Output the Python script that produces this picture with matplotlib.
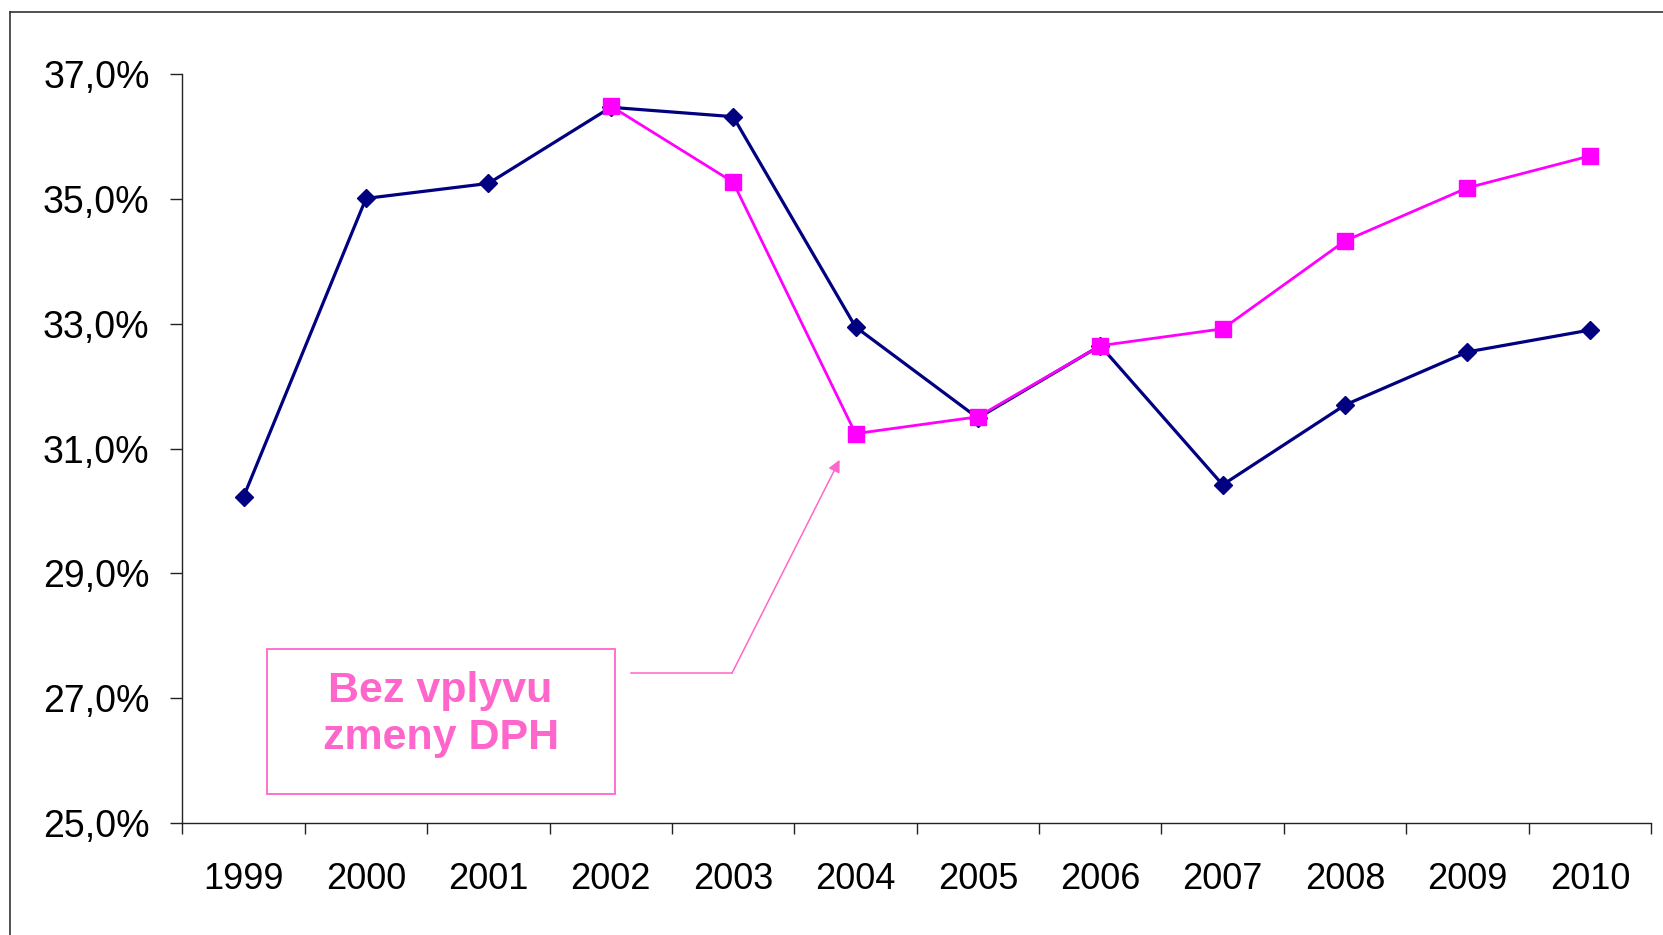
import numpy as np
import matplotlib
matplotlib.use("Agg")
import matplotlib.pyplot as plt
from matplotlib.lines import Line2D
from matplotlib.patches import Rectangle

plt.rcParams['font.family'] = ['Liberation Sans', 'DejaVu Sans']

# data
years = ['1999', '2000', '2001', '2002', '2003', '2004',
         '2005', '2006', '2007', '2008', '2009', '2010']
total = [30.23, 35.01, 35.25, 36.47, 36.32, 32.95,
         31.49, 32.65, 30.42, 31.70, 32.55, 32.90]
# without the VAT change, from 2002 on
no_vat_years = ['2002', '2003', '2004', '2005', '2006', '2007', '2008', '2009', '2010']
no_vat = [36.49, 35.27, 31.24, 31.51, 32.65, 32.92, 34.33, 35.18, 35.69]
y_ticks = [25, 27, 29, 31, 33, 35, 37]

NAVY = '#000080'
MAGENTA = '#FF00FF'
PINK = '#FF66CC'

fig = plt.figure(figsize=(16.63, 9.35), dpi=100)
ax = fig.add_axes([0.1097, 0.1198, 0.8831, 0.8008])

x = np.arange(len(years))
x2 = np.array([years.index(y) for y in no_vat_years])

ax.plot(x, total, color=NAVY, lw=2.3, marker='D', ms=9.5, zorder=3)
ax.plot(x2, no_vat, color=MAGENTA, lw=2.0, marker='s', ms=11.3, zorder=4)

ax.set_xlim(-0.5, len(years) - 0.5)
ax.set_ylim(25, 37)

for s in ['top', 'right']:
    ax.spines[s].set_visible(False)
for s in ['left', 'bottom']:
    ax.spines[s].set_color('#222222')
    ax.spines[s].set_linewidth(1.0)

ax.set_yticks(y_ticks)
ax.set_yticklabels([f"{v:.1f}%".replace('.', ',') for v in y_ticks])
ax.tick_params(axis='y', length=8.6, width=1.0, color='#222222',
               labelsize=27, pad=15)

# category boundaries get the tick marks, centres get the labels
ax.set_xticks(np.arange(-0.5, len(years), 1))
ax.set_xticklabels([])
ax.set_xticks(x, minor=True)
ax.set_xticklabels(years, minor=True)
ax.tick_params(axis='x', which='major', length=7.7, width=1.0, color='#222222')
ax.tick_params(axis='x', which='minor', length=0, labelsize=26, pad=28)

# annotation box and bent arrow
ax.add_patch(Rectangle((0.191, 25.46), 2.842, 2.33, fill=False,
                       edgecolor=PINK, lw=1.3, zorder=5))
ax.text(1.61, 26.74, "Bez vplyvu\nzmeny DPH", color=PINK, fontsize=31,
        fontweight='bold', ha='center', va='center', linespacing=1.2, zorder=6)
ax.plot([3.165, 3.99], [27.40, 27.40], color=PINK, lw=1.1, zorder=5)
ax.annotate('', xy=(4.87, 30.82), xytext=(3.99, 27.40),
            arrowprops=dict(arrowstyle='-|>', color=PINK, lw=1.1,
                            mutation_scale=18, shrinkA=0, shrinkB=0), zorder=5)

# outer frame of the original slide (left and top edges visible)
fw, fh = 1663, 935
fig.add_artist(Line2D([10 / fw, 10 / fw], [0, 1 - 12 / fh],
                      transform=fig.transFigure, color='#333333', lw=1.2))
fig.add_artist(Line2D([10 / fw, 1], [1 - 12 / fh, 1 - 12 / fh],
                      transform=fig.transFigure, color='#333333', lw=1.2))

fig.savefig('out.png', dpi=100)
